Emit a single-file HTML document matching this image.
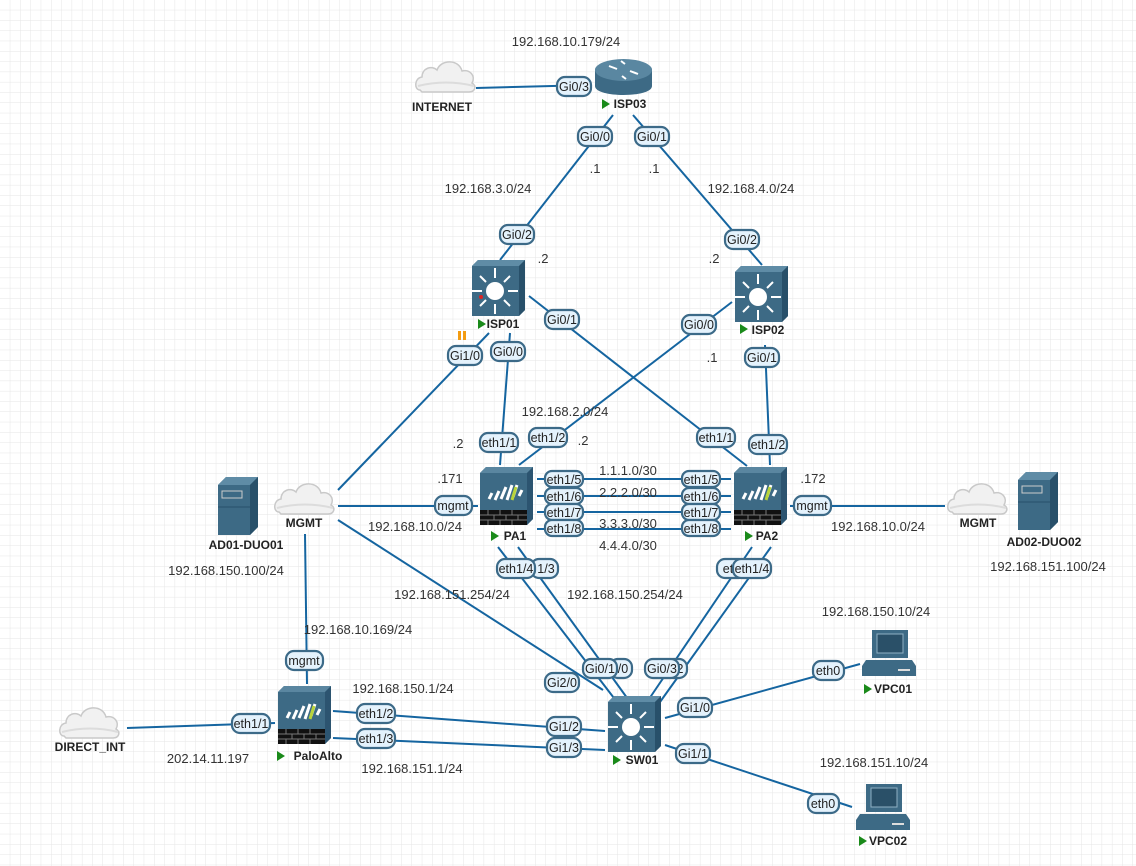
<!DOCTYPE html>
<html><head><meta charset="utf-8"><style>
html,body{margin:0;padding:0;background:#fff}
svg{display:block;font-family:"Liberation Sans",Arial,sans-serif}
.t{font-size:13px;fill:#333;text-anchor:middle}
.n{font-size:12px;font-weight:bold;fill:#222;text-anchor:middle}
.l{stroke:#1565a0;stroke-width:2;fill:none}
.pl rect{fill:#e4f2fc;stroke:#3c6a88;stroke-width:2.2}
.pl text{font-size:12.5px;fill:#222;text-anchor:middle}
</style></head><body>
<svg width="1136" height="866" viewBox="0 0 1136 866" xmlns="http://www.w3.org/2000/svg">
<defs>
<pattern id="g" width="10.3" height="10.3" patternUnits="userSpaceOnUse"><path d="M10.3 0V10.3H0" fill="none" stroke="#e6e6e6" stroke-width="1"/></pattern>
<g id="cloud"><path d="M6 34 C0 34 0 22 8 21 C8 12 18 9 23 14 C27 3 45 3 48 15 C56 13 62 20 58 27 C63 30 61 36 55 36 L8 36 Z" fill="#f1f1f1" stroke="#c9c9c9" stroke-width="1.5"/><path d="M4 30 C20 26 40 25 60 30" fill="none" stroke="#dcdcdc" stroke-width="2"/></g>
<g id="fw"><path d="M0 6 L6 0 L53 0 L53 52 L47 58 L0 58Z" fill="#3d6a85"/><path d="M0 6 L6 0 L53 0 L47 6Z" fill="#5a86a0"/><path d="M47 6 L53 0 L53 52 L47 58Z" fill="#2c5470"/><rect x="0" y="43" width="47" height="15" fill="#111"/><path d="M0 48H47M0 53H47M8 43V48M20 43V48M32 43V48M14 48V53M26 48V53M38 48V53M8 53V58M20 53V58M32 53V58" stroke="#777" stroke-width="1"/><path d="M9 32l3-6M15 33l4-9M21 32l5-12M27 33l5-15M33 30l4-12M39 29l3-6" stroke="#fff" stroke-width="3"/><path d="M32 33l4-13" stroke="#b9d43a" stroke-width="3"/></g>
<g id="sw"><path d="M0 6 L6 0 L53 0 L53 50 L47 56 L0 56Z" fill="#3d6a85"/><path d="M0 6 L6 0 L53 0 L47 6Z" fill="#5f8ca6"/><path d="M47 6 L53 0 L53 50 L47 56Z" fill="#28506a"/><circle cx="23" cy="31" r="9" fill="#fff"/><g stroke="#fff" stroke-width="2"><path d="M23 8V18M23 44V54M0 31H10M36 31H46M8 16L14 22M38 16L32 22M8 46L14 40M38 46L32 40"/></g></g>
<g id="pc"><rect x="10" y="0" width="36" height="28" fill="#3d6a85"/><rect x="15" y="4" width="26" height="19" fill="#2a5068" stroke="#8fb0c4"/><path d="M4 30H50L54 36V46H0V36Z" fill="#3d6a85"/><rect x="36" y="39" width="12" height="2" fill="#ddd"/></g>
<g id="srv"><path d="M0 8 L8 0 L40 0 L40 50 L32 58 L0 58Z" fill="#3d6a85"/><path d="M0 8L8 0L40 0L32 8Z" fill="#5f8ca6"/><path d="M32 8L40 0V50L32 58Z" fill="#28506a"/><rect x="4" y="14" width="20" height="7" fill="none" stroke="#ccc"/><path d="M0 30H32" stroke="#28506a"/></g>
</defs>
<rect width="1136" height="866" fill="#fff"/>
<rect width="1136" height="866" fill="url(#g)"/>

<g class="l">
<line x1="476" y1="88" x2="592" y2="85"/>
<line x1="613" y1="115" x2="500" y2="260"/>
<line x1="633" y1="115" x2="762" y2="265"/>
<line x1="529" y1="296" x2="747" y2="466"/>
<line x1="732" y1="302" x2="519" y2="465"/>
<line x1="510" y1="333" x2="500" y2="465"/>
<line x1="765" y1="345" x2="770" y2="465"/>
<line x1="489" y1="333" x2="338" y2="490"/>
<line x1="338" y1="506" x2="478" y2="506"/>
<line x1="790" y1="506" x2="945" y2="506"/>
<line x1="537" y1="479" x2="731" y2="479"/>
<line x1="537" y1="496" x2="731" y2="496"/>
<line x1="537" y1="512" x2="731" y2="512"/>
<line x1="537" y1="529" x2="731" y2="529"/>
<line x1="498" y1="547" x2="617" y2="702"/>
<line x1="518" y1="547" x2="630" y2="702"/>
<line x1="752" y1="547" x2="647" y2="702"/>
<line x1="771" y1="547" x2="660" y2="702"/>
<line x1="338" y1="520" x2="603" y2="690"/>
<line x1="305" y1="534" x2="307" y2="684"/>
<line x1="127" y1="728" x2="275" y2="723"/>
<line x1="333" y1="711" x2="605" y2="731"/>
<line x1="333" y1="738" x2="605" y2="750"/>
<line x1="665" y1="718" x2="860" y2="664"/>
<line x1="665" y1="745" x2="852" y2="807"/>
</g>

<use href="#cloud" x="414" y="56"/>
<use href="#cloud" x="273" y="478"/>
<use href="#cloud" x="946" y="478"/>
<use href="#cloud" x="58" y="702"/>
<g transform="translate(595,58)"><path d="M0 12 C0 0 57 0 57 12 V28 C57 40 0 40 0 28Z" fill="#3d6a85"/><ellipse cx="28.5" cy="12" rx="28.5" ry="11" fill="#5a87a1"/><g stroke="#fff" stroke-width="2"><path d="M14 8L22 11M43 16L35 13M30 6L26 3M27 18L31 21"/></g></g>
<use href="#sw" x="472" y="260"/>
<use href="#sw" x="735" y="266"/>
<circle cx="481" cy="297" r="2" fill="#d22"/>
<use href="#fw" x="480" y="467"/>
<use href="#fw" x="734" y="467"/>
<use href="#fw" x="278" y="686"/>
<use href="#sw" x="608" y="696"/>
<use href="#pc" x="862" y="630"/>
<use href="#pc" x="856" y="784"/>
<use href="#srv" x="218" y="477"/>
<use href="#srv" x="1018" y="472"/>
<rect x="458" y="331" width="3" height="9" fill="#f39c12"/><rect x="463" y="331" width="3" height="9" fill="#f39c12"/>

<g class="n">
<text x="442" y="111">INTERNET</text>
<text x="304" y="527">MGMT</text>
<text x="978" y="527">MGMT</text>
<text x="90" y="751">DIRECT_INT</text>
<text x="246" y="549">AD01-DUO01</text>
<text x="1044" y="546">AD02-DUO02</text>
<text x="630" y="108">ISP03</text>
<text x="503" y="328">ISP01</text>
<text x="768" y="334">ISP02</text>
<text x="515" y="540">PA1</text>
<text x="767" y="540">PA2</text>
<text x="318" y="760">PaloAlto</text>
<text x="642" y="764">SW01</text>
<text x="893" y="693">VPC01</text>
<text x="888" y="845">VPC02</text>
</g>
<g fill="#1a8a1a">
<path d="M602 99l8 5-8 5z"/><path d="M478 319l8 5-8 5z"/><path d="M740 324l8 5-8 5z"/>
<path d="M491 531l8 5-8 5z"/><path d="M745 531l8 5-8 5z"/><path d="M277 751l8 5-8 5z"/>
<path d="M613 755l8 5-8 5z"/><path d="M864 684l8 5-8 5z"/><path d="M859 836l8 5-8 5z"/>
</g>

<g class="t">
<text x="566" y="46">192.168.10.179/24</text>
<text x="488" y="193">192.168.3.0/24</text>
<text x="595" y="173">.1</text><text x="654" y="173">.1</text>
<text x="751" y="193">192.168.4.0/24</text>
<text x="543" y="263">.2</text><text x="714" y="263">.2</text>
<text x="712" y="362">.1</text>
<text x="565" y="416">192.168.2.0/24</text>
<text x="458" y="448">.2</text><text x="583" y="445">.2</text>
<text x="450" y="483">.171</text><text x="813" y="483">.172</text>
<text x="628" y="475">1.1.1.0/30</text><text x="628" y="497">2.2.2.0/30</text>
<text x="628" y="528">3.3.3.0/30</text><text x="628" y="550">4.4.4.0/30</text>
<text x="415" y="531">192.168.10.0/24</text>
<text x="878" y="531">192.168.10.0/24</text>
<text x="226" y="575">192.168.150.100/24</text>
<text x="1048" y="571">192.168.151.100/24</text>
<text x="452" y="599">192.168.151.254/24</text>
<text x="625" y="599">192.168.150.254/24</text>
<text x="876" y="616">192.168.150.10/24</text>
<text x="358" y="634">192.168.10.169/24</text>
<text x="403" y="693">192.168.150.1/24</text>
<text x="208" y="763">202.14.11.197</text>
<text x="412" y="773">192.168.151.1/24</text>
<text x="874" y="767">192.168.151.10/24</text>
</g>

<g class="pl">
<rect x="557" y="77" width="34" height="19" rx="8"/><text x="574" y="91">Gi0/3</text>
<rect x="578" y="127" width="34" height="19" rx="8"/><text x="595" y="141">Gi0/0</text>
<rect x="635" y="127" width="34" height="19" rx="8"/><text x="652" y="141">Gi0/1</text>
<rect x="500" y="225" width="34" height="19" rx="8"/><text x="517" y="239">Gi0/2</text>
<rect x="725" y="230" width="34" height="19" rx="8"/><text x="742" y="244">Gi0/2</text>
<rect x="545" y="310" width="34" height="19" rx="8"/><text x="562" y="324">Gi0/1</text>
<rect x="682" y="315" width="34" height="19" rx="8"/><text x="699" y="329">Gi0/0</text>
<rect x="491" y="342" width="34" height="19" rx="8"/><text x="508" y="356">Gi0/0</text>
<rect x="448" y="346" width="34" height="19" rx="8"/><text x="465" y="360">Gi1/0</text>
<rect x="745" y="348" width="34" height="19" rx="8"/><text x="762" y="362">Gi0/1</text>
<rect x="480" y="433" width="38" height="19" rx="8"/><text x="499" y="447">eth1/1</text>
<rect x="529" y="428" width="38" height="19" rx="8"/><text x="548" y="442">eth1/2</text>
<rect x="697" y="428" width="38" height="19" rx="8"/><text x="716" y="442">eth1/1</text>
<rect x="749" y="435" width="38" height="19" rx="8"/><text x="768" y="449">eth1/2</text>
<rect x="435" y="496" width="37" height="19" rx="8"/><text x="453" y="510">mgmt</text>
<rect x="794" y="496" width="37" height="19" rx="8"/><text x="812" y="510">mgmt</text>
<rect x="545" y="471" width="38" height="16" rx="7"/><text x="564" y="484">eth1/5</text>
<rect x="545" y="488" width="38" height="16" rx="7"/><text x="564" y="501">eth1/6</text>
<rect x="545" y="504" width="38" height="16" rx="7"/><text x="564" y="517">eth1/7</text>
<rect x="545" y="520" width="38" height="16" rx="7"/><text x="564" y="533">eth1/8</text>
<rect x="682" y="471" width="38" height="16" rx="7"/><text x="701" y="484">eth1/5</text>
<rect x="682" y="488" width="38" height="16" rx="7"/><text x="701" y="501">eth1/6</text>
<rect x="682" y="504" width="38" height="16" rx="7"/><text x="701" y="517">eth1/7</text>
<rect x="682" y="520" width="38" height="16" rx="7"/><text x="701" y="533">eth1/8</text>
<rect x="531" y="559" width="27" height="19" rx="8"/><text x="546" y="573">1/3</text>
<rect x="497" y="559" width="38" height="19" rx="8"/><text x="516" y="573">eth1/4</text>
<rect x="717" y="559" width="30" height="19" rx="8"/><text x="728" y="573">et</text>
<rect x="733" y="559" width="38" height="19" rx="8"/><text x="752" y="573">eth1/4</text>
<rect x="610" y="659" width="22" height="19" rx="8"/><text x="623" y="673">/0</text>
<rect x="583" y="659" width="34" height="19" rx="8"/><text x="600" y="673">Gi0/1</text>
<rect x="665" y="659" width="22" height="19" rx="8"/><text x="680" y="673">2</text>
<rect x="645" y="659" width="34" height="19" rx="8"/><text x="662" y="673">Gi0/3</text>
<rect x="545" y="673" width="34" height="19" rx="8"/><text x="562" y="687">Gi2/0</text>
<rect x="286" y="651" width="37" height="19" rx="8"/><text x="304" y="665">mgmt</text>
<rect x="232" y="714" width="38" height="19" rx="8"/><text x="251" y="728">eth1/1</text>
<rect x="357" y="704" width="38" height="19" rx="8"/><text x="376" y="718">eth1/2</text>
<rect x="357" y="729" width="38" height="19" rx="8"/><text x="376" y="743">eth1/3</text>
<rect x="547" y="717" width="34" height="19" rx="8"/><text x="564" y="731">Gi1/2</text>
<rect x="547" y="738" width="34" height="19" rx="8"/><text x="564" y="752">Gi1/3</text>
<rect x="678" y="698" width="34" height="19" rx="8"/><text x="695" y="712">Gi1/0</text>
<rect x="676" y="744" width="34" height="19" rx="8"/><text x="693" y="758">Gi1/1</text>
<rect x="813" y="661" width="31" height="19" rx="8"/><text x="828" y="675">eth0</text>
<rect x="808" y="794" width="31" height="19" rx="8"/><text x="823" y="808">eth0</text>
</g>
</svg>
</body></html>
